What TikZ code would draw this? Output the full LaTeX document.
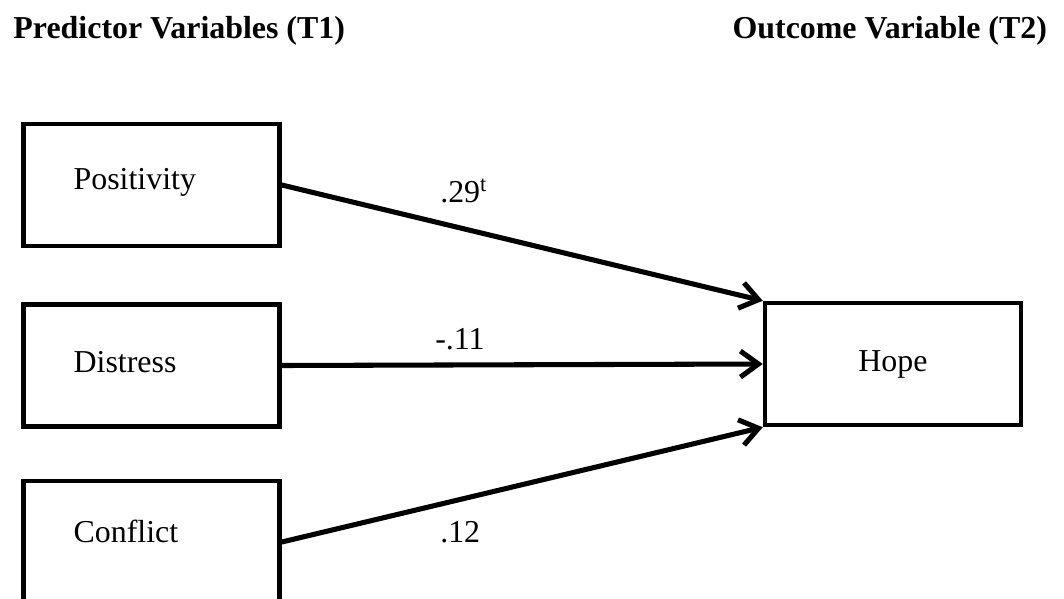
\documentclass[tikz,border=0pt]{standalone}
\usepackage{fontspec}
\setmainfont{Liberation Serif}
\usetikzlibrary{positioning,arrows.meta}

\begin{document}
\begin{tikzpicture}[line cap=round,line join=round,
  font=\fontsize{22.7}{27}\selectfont,
  varbox/.style={draw,line width=3.2pt,line cap=butt,line join=miter,minimum height=3.05cm,
    text height=16pt,text depth=6pt},
  predbox/.style={varbox,text width=3.9cm,inner xsep=1.25cm,align=left},
  outbox/.style={varbox,minimum width=6.4cm},
  coef/.style={line width=3.6pt,-{Straight Barb[length=4.5mm,width=6.5mm]}},
  lbl/.style={inner sep=0pt,anchor=base west}]
  \useasboundingbox (0,0) rectangle (26.6,-14.975);
  % column headings
  \node[lbl,font=\fontsize{22.7}{27}\selectfont\bfseries] (thead1) at (0.33,-0.95) {Predictor Variables (T1)};
  \node[lbl,anchor=base east,font=\fontsize{22.7}{27}\selectfont\bfseries] (thead2) at (26.18,-0.95) {Outcome Variable (T2)};
  % boxes
  \node[predbox,text depth=10pt] (pos) at (3.79,-4.625) {Positivity};
  \node[predbox,below=1.35cm of pos] (dis) {Distress};
  \node[predbox,below=1.25cm of dis,text depth=16pt] (con) {Conflict};
  \node[outbox] (hope) at (22.325,-9.1) {Hope};
  % paths
  \draw[coef] (pos.east) -- (hope.north west);
  \draw[coef] (dis.east) -- (hope.west);
  \draw[coef] (con.east) -- (hope.south west);
  \node[lbl] (b1) at (11.0,-5.05) {.29\textsuperscript{t}};
  \node[lbl] (b2) at (10.875,-8.725) {-.11};
  \node[lbl] (b3) at (11.0,-13.55) {.12};
\end{tikzpicture}
\end{document}
